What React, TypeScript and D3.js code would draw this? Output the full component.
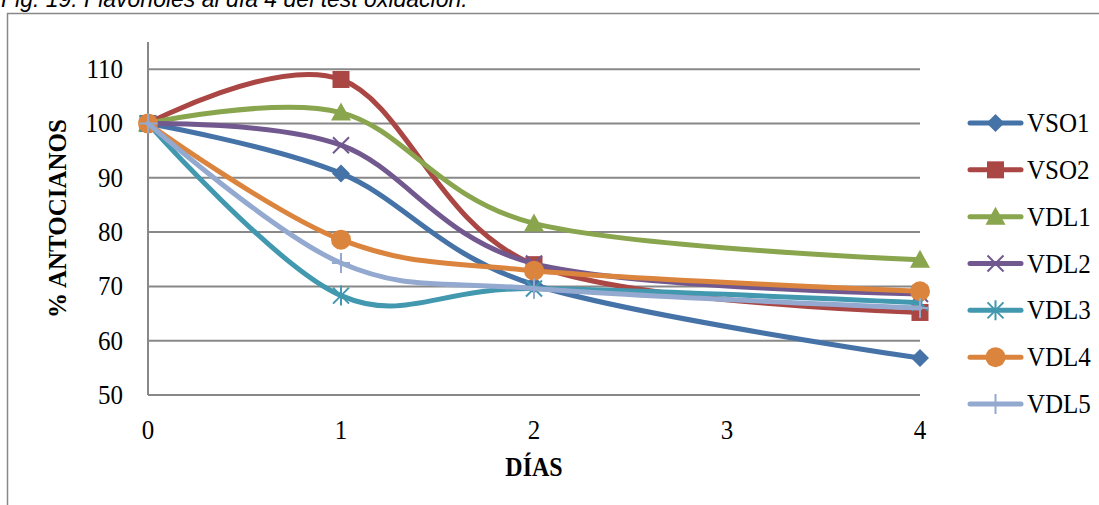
import React from "react";
import * as d3 from "d3";

const days = [0, 1, 2, 4];
const seriesNames = ["VSO1", "VSO2", "VDL1", "VDL2", "VDL3", "VDL4", "VDL5"];
const VSO1 = [100, 90.8, 70.3, 56.8];
const VSO2 = [100, 108.1, 74.0, 65.2];
const VDL1 = [100, 102.0, 81.6, 74.9];
const VDL2 = [100, 96.0, 74.2, 68.6];
const VDL3 = [100, 68.3, 69.6, 67.0];
const VDL4 = [100, 78.6, 72.9, 69.1];
const VDL5 = [100, 74.3, 69.6, 66.0];
const seriesValues = [VSO1, VSO2, VDL1, VDL2, VDL3, VDL4, VDL5];
const colors = ["#4572A7", "#AA4643", "#89A54E", "#71588F", "#4198AF", "#DB843D", "#93A9CF"];
const markerTypes = ["diamond", "square", "triangle", "x", "star", "circle", "plus"];
const yTicks = [50, 60, 70, 80, 90, 100, 110];
const xTicks = [0, 1, 2, 3, 4];

const W = 1099, H = 505;
const x = d3.scaleLinear().domain([0, 4]).range([148, 920]);
const y = d3.scaleLinear().domain([50, 115]).range([395, 42]);
const serif = "'Liberation Serif', 'Times New Roman', serif";

function Marker({ type, cx, cy, color }: { type: string; cx: number; cy: number; color: string }) {
  switch (type) {
    case "diamond":
      return <path d={`M${cx},${cy - 9}L${cx + 9},${cy}L${cx},${cy + 9}L${cx - 9},${cy}Z`} fill={color} />;
    case "square":
      return <rect x={cx - 8.5} y={cy - 8.5} width={17} height={17} fill={color} />;
    case "triangle":
      return <path d={`M${cx},${cy - 10}L${cx + 10},${cy + 8}L${cx - 10},${cy + 8}Z`} fill={color} />;
    case "x":
      return (
        <path d={`M${cx - 8},${cy - 8}L${cx + 8},${cy + 8}M${cx + 8},${cy - 8}L${cx - 8},${cy + 8}`} stroke={color} strokeWidth={2} />
      );
    case "star":
      return (
        <path
          d={`M${cx - 8},${cy - 8}L${cx + 8},${cy + 8}M${cx + 8},${cy - 8}L${cx - 8},${cy + 8}M${cx},${cy - 10}L${cx},${cy + 10}`}
          stroke={color}
          strokeWidth={2}
        />
      );
    case "circle":
      return <circle cx={cx} cy={cy} r={10} fill={color} />;
    case "plus":
      return <path d={`M${cx - 9},${cy}L${cx + 9},${cy}M${cx},${cy - 10}L${cx},${cy + 10}`} stroke={color} strokeWidth={2} />;
  }
  return null;
}

function SText({ x: tx, y: ty, anchor, size, bold, children }: any) {
  return (
    <text
      transform={`translate(${tx},${ty}) scale(1,1.12)`}
      textAnchor={anchor}
      fontFamily={serif}
      fontSize={size}
      fontWeight={bold ? "bold" : "normal"}
      fill="#000"
    >
      {children}
    </text>
  );
}

export default function App() {
  const line = d3
    .line<[number, number]>()
    .x((d) => x(d[0]))
    .y((d) => y(d[1]))
    .curve(d3.curveCatmullRom.alpha(0));

  const legendY = d3.scalePoint<string>().domain(seriesNames).range([123, 404]);

  return (
    <svg width={W} height={H} style={{ position: "absolute", left: 0, top: 0, background: "#fff" }}>
      <text x={1} y={7} fontFamily="'Liberation Sans', Arial, sans-serif" fontStyle="italic" fontSize={23} fill="#000">
        Fig. 19. Flavonoles al día 4 del test oxidación.
      </text>
      <path d={`M7.5,${H + 5}V13.5H${W + 5}`} fill="none" stroke="#888" strokeWidth={1.5} />

      {yTicks.map((t) => (
        <line key={t} x1={x(0)} x2={x(4)} y1={y(t)} y2={y(t)} stroke="#888" strokeWidth={2} />
      ))}
      <line x1={x(0)} x2={x(0)} y1={y(115)} y2={y(50)} stroke="#888" strokeWidth={2} />

      {yTicks.map((t) => (
        <SText key={t} x={123} y={y(t) + 9} anchor="end" size={25}>
          {t}
        </SText>
      ))}
      {xTicks.map((t) => (
        <SText key={t} x={x(t)} y={439} anchor="middle" size={25}>
          {t}
        </SText>
      ))}
      <text
        transform={`translate(66,${y(82.5)}) rotate(-90)`}
        textAnchor="middle"
        fontFamily={serif}
        fontWeight="bold"
        fontSize={25}
        fill="#000"
      >
        % ANTOCIANOS
      </text>
      <SText x={x(2)} y={476} anchor="middle" size={24} bold>
        DÍAS
      </SText>

      {seriesValues.map((vals, i) => {
        const pts = days.map((d, j) => [d, vals[j]] as [number, number]);
        return (
          <g key={seriesNames[i]}>
            <path d={line(pts) || ""} fill="none" stroke={colors[i]} strokeWidth={5} strokeLinecap="round" />
            {pts.map((p, j) => (
              <Marker key={j} type={markerTypes[i]} cx={x(p[0])} cy={y(p[1])} color={colors[i]} />
            ))}
          </g>
        );
      })}

      {seriesNames.map((name, i) => {
        const ly = legendY(name) as number;
        return (
          <g key={name}>
            <line x1={970} x2={1021} y1={ly} y2={ly} stroke={colors[i]} strokeWidth={5} strokeLinecap="round" />
            <Marker type={markerTypes[i]} cx={995.5} cy={ly} color={colors[i]} />
            <SText x={1027} y={ly + 9} anchor="start" size={25}>
              {name}
            </SText>
          </g>
        );
      })}
    </svg>
  );
}
